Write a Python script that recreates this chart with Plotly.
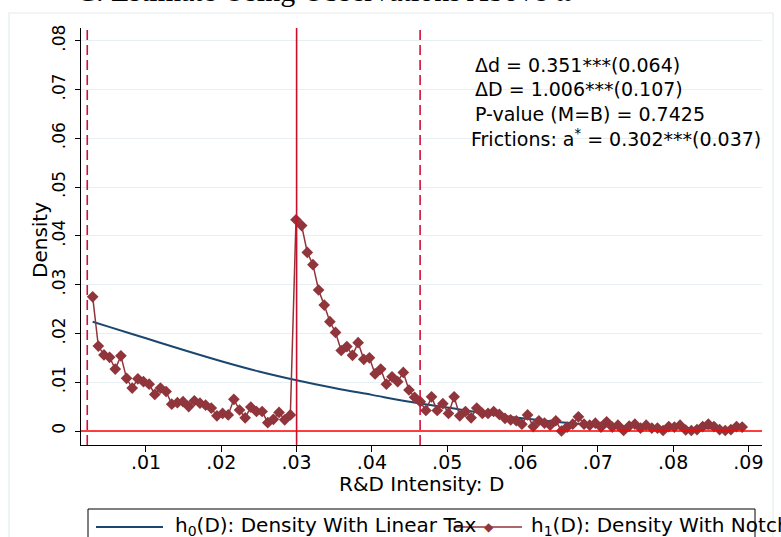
import plotly.graph_objects as go

# ---- data ----
rd_intensity = [
    0.00292, 0.00367, 0.00442, 0.00517, 0.00592, 0.00667, 0.00742, 0.00817, 0.00892, 0.00967,
    0.01042, 0.01117, 0.01192, 0.01267, 0.01342, 0.01417, 0.01492, 0.01567, 0.01642, 0.01717,
    0.01792, 0.01867, 0.01942, 0.02017, 0.02092, 0.02167, 0.02242, 0.02317, 0.02392, 0.02467,
    0.02542, 0.02617, 0.02692, 0.02767, 0.02842, 0.02917, 0.02992, 0.03067, 0.03142, 0.03217,
    0.03292, 0.03367, 0.03442, 0.03517, 0.03592, 0.03667, 0.03742, 0.03817, 0.03892, 0.03967,
    0.04042, 0.04117, 0.04192, 0.04267, 0.04342, 0.04417, 0.04492, 0.04567, 0.04642, 0.04717,
    0.04792, 0.04867, 0.04942, 0.05017, 0.05092, 0.05167, 0.05242, 0.05317, 0.05392, 0.05467,
    0.05542, 0.05617, 0.05692, 0.05767, 0.05842, 0.05917, 0.05992, 0.06067, 0.06142, 0.06217,
    0.06292, 0.06367, 0.06442, 0.06517, 0.06592, 0.06667, 0.06742, 0.06817, 0.06892, 0.06967,
    0.07042, 0.07117, 0.07192, 0.07267, 0.07342, 0.07417, 0.07492, 0.07567, 0.07642, 0.07717,
    0.07792, 0.07867, 0.07942, 0.08017, 0.08092, 0.08167, 0.08242, 0.08317, 0.08392, 0.08467,
    0.08542, 0.08617, 0.08692, 0.08767, 0.08842, 0.08917,
]
density_notch = [
    0.0275, 0.0174, 0.0156, 0.0151, 0.0127, 0.0154, 0.0108, 0.0088, 0.0107, 0.0101,
    0.0096, 0.0075, 0.0088, 0.0081, 0.0055, 0.0058, 0.0060, 0.0050, 0.0062, 0.0057,
    0.0053, 0.0047, 0.0031, 0.0036, 0.0033, 0.0065, 0.0043, 0.0027, 0.0049, 0.0040,
    0.0040, 0.0017, 0.0024, 0.0038, 0.0023, 0.0033,
    0.0433, 0.0421, 0.0366, 0.0341, 0.0289, 0.0258, 0.0224, 0.0202, 0.0165, 0.0173,
    0.0155, 0.0181, 0.0147, 0.0150, 0.0117, 0.0127, 0.0096, 0.0111, 0.0101, 0.0120,
    0.0084, 0.0069, 0.0060, 0.0042, 0.0070, 0.0042,
    0.0056, 0.0036, 0.0070, 0.0031, 0.0040, 0.0027, 0.0047, 0.0036, 0.0036, 0.0040,
    0.0034, 0.0026, 0.0023, 0.0021, 0.0014, 0.0033, 0.0009, 0.0021, 0.0016, 0.0012,
    0.0021, 0.0000, 0.0008, 0.0014, 0.0029, 0.0014, 0.0012, 0.0016, 0.0008, 0.0019,
    0.0008, 0.0012, 0.0001, 0.0010, 0.0014, 0.0006, 0.0012, 0.0006, 0.0006, 0.0001,
    0.0009, 0.0008, 0.0012, 0.0002, 0.0001, 0.0003, 0.0009, 0.0014, 0.0009, 0.0003,
    0.0001, 0.0003, 0.0009, 0.0008,
]
linear_x = [0.00292, 0.005, 0.010, 0.015, 0.020, 0.025, 0.030, 0.035, 0.040, 0.045,
            0.050, 0.055, 0.060, 0.065, 0.070, 0.075, 0.080, 0.085, 0.08917]
density_linear = [0.0224, 0.0214, 0.0190, 0.0166, 0.0143, 0.0122, 0.0104, 0.0088, 0.0074, 0.0060,
                  0.0048, 0.0036, 0.0026, 0.0018, 0.0012, 0.0008, 0.0006, 0.0005, 0.0004]

lower_bound = 0.0022
notch = 0.030
upper_bound = 0.0464

x_tickvals = [0.01, 0.02, 0.03, 0.04, 0.05, 0.06, 0.07, 0.08, 0.09]
x_ticktext = [".01", ".02", ".03", ".04", ".05", ".06", ".07", ".08", ".09"]
y_tickvals = [0, 0.01, 0.02, 0.03, 0.04, 0.05, 0.06, 0.07, 0.08]
y_ticktext = ["0", ".01", ".02", ".03", ".04", ".05", ".06", ".07", ".08"]

stats_lines = [
    "\u0394d = 0.351***(0.064)",
    "\u0394D = 1.006***(0.107)",
    "P-value (M=B) = 0.7425",
    "Frictions: a<sup>*</sup> = 0.302***(0.037)",
]

NAVY = "#1a476f"
MAROON = "#90353b"
CRIMSON = "#d0103a"
W, H = 781, 537
FONT = "DejaVu Sans"


def px(v):
    return v / W


def py(v):
    return 1 - v / H


fig = go.Figure()
fig.add_trace(go.Scatter(x=linear_x, y=density_linear, mode="lines", line_shape="spline",
                         line=dict(color=NAVY, width=2), showlegend=False, hoverinfo="skip"))
fig.add_trace(go.Scatter(x=rd_intensity, y=density_notch, mode="lines+markers",
                         line=dict(color=MAROON, width=1.5),
                         marker=dict(symbol="diamond", size=9, color=MAROON),
                         showlegend=False))

shapes = []
for xv, dash, col in [(lower_bound, "10px,5px", CRIMSON), (upper_bound, "10px,5px", CRIMSON),
                      (notch, "solid", "#c8102e")]:
    shapes.append(dict(type="line", xref="x", yref="y domain", x0=xv, x1=xv, y0=0, y1=1,
                       line=dict(color=col, width=1.6, dash=dash)))
shapes.append(dict(type="line", xref="x domain", yref="y", x0=0, x1=1, y0=0, y1=0,
                   line=dict(color="#ff0000", width=1.6)))
shapes.append(dict(type="rect", xref="paper", yref="paper", x0=px(9), x1=px(773), y0=py(560), y1=py(13),
                   line=dict(color="#e3ebee", width=1.2), layer="below"))
shapes.append(dict(type="rect", xref="paper", yref="paper", x0=px(88), x1=px(755), y0=py(560), y1=py(509),
                   line=dict(color="black", width=1)))
shapes.append(dict(type="line", xref="paper", yref="paper", x0=px(96), x1=px(163), y0=py(527), y1=py(527),
                   line=dict(color=NAVY, width=2)))
shapes.append(dict(type="line", xref="paper", yref="paper", x0=px(455), x1=px(522), y0=py(527), y1=py(527),
                   line=dict(color=MAROON, width=1.5)))

annotations = []
annotations.append(dict(text="C. Estimate Using Observations Above \u03c9", xref="paper", yref="paper",
                        x=px(325), y=py(9), xanchor="center", yanchor="bottom", showarrow=False,
                        font=dict(family="Liberation Serif", size=30, color="black")))
for i, (t, xl) in enumerate(zip(stats_lines, [473, 473, 473, 469])):
    annotations.append(dict(text=t, xref="paper", yref="paper", x=px(xl), y=py(65 + 24.3 * i),
                            xanchor="left", yanchor="middle", showarrow=False,
                            font=dict(family=FONT, size=19, color="black")))
annotations.append(dict(text="Density", xref="paper", yref="paper", x=px(40), y=py(240),
                        textangle=-90, xanchor="center", yanchor="middle", showarrow=False,
                        font=dict(family=FONT, size=20, color="black")))
annotations.append(dict(text="R&D Intensity: D", xref="paper", yref="paper", x=px(421), y=py(484),
                        xanchor="center", yanchor="middle", showarrow=False,
                        font=dict(family=FONT, size=20, color="black")))
annotations.append(dict(text="h<sub>0</sub>(D): Density With Linear Tax", xref="paper", yref="paper",
                        x=px(173), y=py(526), xanchor="left", yanchor="middle", showarrow=False,
                        font=dict(family=FONT, size=20, color="black")))
annotations.append(dict(text="h<sub>1</sub>(D): Density With Notch", xref="paper", yref="paper",
                        x=px(529), y=py(526), xanchor="left", yanchor="middle", showarrow=False,
                        font=dict(family=FONT, size=20, color="black")))
annotations.append(dict(text="\u25c6", xref="paper", yref="paper", x=px(489), y=py(527),
                        xanchor="center", yanchor="middle", showarrow=False,
                        font=dict(family=FONT, size=12, color=MAROON)))

fig.update_layout(
    width=W, height=H,
    margin=dict(l=0, r=0, t=0, b=0),
    paper_bgcolor="white", plot_bgcolor="white",
    shapes=shapes, annotations=annotations,
    showlegend=False,
    xaxis=dict(domain=[px(81), px(762)], range=[0.00137, 0.0918], tickvals=x_tickvals, ticktext=x_ticktext,
               showline=True, linecolor="black", linewidth=1, ticks="outside", ticklen=6, tickcolor="black",
               showgrid=False, zeroline=False, tickfont=dict(family=FONT, size=19, color="black"),
               ticklabelstandoff=-6, automargin=False),
    yaxis=dict(domain=[py(445), py(28)], range=[-0.00287, 0.0826], tickvals=y_tickvals, ticktext=y_ticktext,
               showline=True, linecolor="black", linewidth=1, ticks="outside", ticklen=5, tickcolor="black",
               showgrid=True, gridcolor="#e8eff2", gridwidth=1, zeroline=False, tickangle=-90,
               ticklabelstandoff=3,
               tickfont=dict(family=FONT, size=17, color="black"), automargin=False),
)

fig.write_html("out.html")
